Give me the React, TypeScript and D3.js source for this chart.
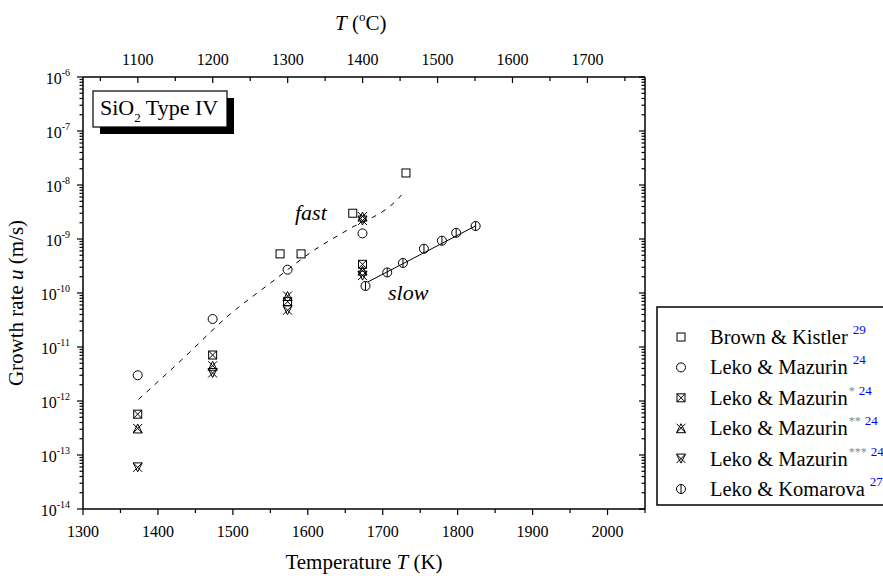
import React from 'react';
import * as d3 from 'd3';

// temperature (K), growth rate (m/s)
const brownKistler = [[1563, 5.3e-10], [1591, 5.3e-10], [1660, 3.0e-9], [1731, 1.67e-8]];
const lekoMazurin = [[1373, 3.0e-12], [1473, 3.3e-11], [1573, 2.7e-10], [1673, 1.27e-9]];
const lekoMazurin1 = [[1373, 5.7e-13], [1473, 7.1e-12], [1573, 6.9e-11], [1673, 3.4e-10]];
const lekoMazurin2 = [[1373, 3.1e-13], [1473, 4.5e-12], [1573, 8.8e-11], [1673, 2.6e-9], [1673, 2.6e-10]];
const lekoMazurin3 = [[1373, 5.9e-14], [1473, 3.3e-12], [1573, 4.8e-11], [1673, 2.2e-9], [1673, 2.1e-10]];
const lekoKomarova = [[1677, 1.35e-10], [1706, 2.4e-10], [1727, 3.6e-10], [1755, 6.6e-10], [1779, 9.3e-10], [1798, 1.3e-9], [1824, 1.74e-9]];

// fitted curves
const fastCurve = [[1374, 1.07e-12], [1434, 6.2e-12], [1492, 3.6e-11], [1552, 1.6e-10], [1609, 6.3e-10], [1653, 1.47e-9], [1719, 5.3e-9], [1729, 7.5e-9]];
const slowCurve = [[1680, 1.6e-10], [1824, 1.75e-9]];

const xTicksK = [1300, 1400, 1500, 1600, 1700, 1800, 1900, 2000];
const xTicksC = [1100, 1200, 1300, 1400, 1500, 1600, 1700];
const yDecades = [-14, -13, -12, -11, -10, -9, -8, -7, -6];

const legendItems = [
  { kind: 'square', label: 'Brown & Kistler', star: '', ref: '29' },
  { kind: 'circle', label: 'Leko & Mazurin', star: '', ref: '24' },
  { kind: 'xsquare', label: 'Leko & Mazurin', star: '*', ref: '24' },
  { kind: 'triupx', label: 'Leko & Mazurin', star: '**', ref: '24' },
  { kind: 'tridownx', label: 'Leko & Mazurin', star: '***', ref: '24' },
  { kind: 'circlebar', label: 'Leko & Komarova', star: '', ref: '27' },
];

function Marker({ kind, x, y }: { kind: string; x: number; y: number }) {
  const s = 4.5;
  const st = { fill: 'none', stroke: '#000', strokeWidth: 1 };
  const xLines = (
    <path d={`M${x - s},${y - s}L${x + s},${y + s}M${x + s},${y - s}L${x - s},${y + s}`} {...st} />
  );
  if (kind === 'square') return <rect x={x - 4} y={y - 4} width={8} height={8} {...st} />;
  if (kind === 'circle') return <circle cx={x} cy={y} r={s} {...st} />;
  if (kind === 'xsquare')
    return (
      <g>
        <rect x={x - 4} y={y - 4} width={8} height={8} {...st} />
        <path d={`M${x - 4},${y - 4}L${x + 4},${y + 4}M${x + 4},${y - 4}L${x - 4},${y + 4}`} {...st} />
      </g>
    );
  if (kind === 'triupx')
    return (
      <g>
        <path d={`M${x},${y - s}L${x + s},${y + s}L${x - s},${y + s}Z`} {...st} />
        {xLines}
      </g>
    );
  if (kind === 'tridownx')
    return (
      <g>
        <path d={`M${x},${y + s}L${x + s},${y - s}L${x - s},${y - s}Z`} {...st} />
        {xLines}
      </g>
    );
  return (
    <g>
      <circle cx={x} cy={y} r={s} {...st} />
      <line x1={x} x2={x} y1={y - s} y2={y + s} {...st} />
    </g>
  );
}

export default function App() {
  const left = 83, right = 645, top = 77, bottom = 509;
  const x = d3.scaleLinear().domain([1300, 2050]).range([left, right]);
  const xc = d3.scaleLinear().domain([1300 - 273.15, 2050 - 273.15]).range([left, right]);
  const y = d3.scaleLog().domain([1e-14, 1e-6]).range([bottom, top]);

  const minorK = d3.range(1350, 2051, 100);
  const minorC = d3.range(1050, 1751, 100);
  const minorY: number[] = [];
  yDecades.slice(0, -1).forEach((d) => {
    for (let k = 2; k <= 9; k++) minorY.push(k * Math.pow(10, d));
  });

  const line = d3
    .line<number[]>()
    .x((d) => x(d[0]))
    .y((d) => y(d[1]))
    .curve(d3.curveMonotoneX);

  const series: [string, number[][]][] = [
    ['square', brownKistler],
    ['circle', lekoMazurin],
    ['xsquare', lekoMazurin1],
    ['triupx', lekoMazurin2],
    ['tridownx', lekoMazurin3],
    ['circlebar', lekoKomarova],
  ];

  const ax = { stroke: '#000', strokeWidth: 1.5 };
  const tk = { stroke: '#000', strokeWidth: 1.2 };

  return (
    <svg width={883} height={576} style={{ position: 'absolute', left: 0, top: 0, background: '#fff' }}>
      <style>{`text { font-family: 'Liberation Serif'; fill: #000; }`}</style>
      <rect width={883} height={576} fill="#fff" />

      {/* curves */}
      <path d={line(fastCurve) || ''} fill="none" stroke="#000" strokeWidth={1} strokeDasharray="5,6" />
      <path d={line(slowCurve) || ''} fill="none" stroke="#000" strokeWidth={1} />

      {/* points */}
      {series.map(([kind, data]) =>
        data.map((d, i) => <Marker key={kind + i} kind={kind} x={x(d[0])} y={y(d[1])} />)
      )}

      {/* axes frame */}
      <line x1={left} x2={right} y1={bottom} y2={bottom} {...ax} />
      <line x1={left} x2={right} y1={top} y2={top} {...ax} />
      <line x1={left} x2={left} y1={top} y2={bottom} {...ax} />
      <line x1={right} x2={right} y1={top} y2={bottom} {...ax} />

      {/* bottom axis */}
      {xTicksK.map((t) => (
        <g key={'bk' + t}>
          <line x1={x(t)} x2={x(t)} y1={bottom} y2={bottom + 6} {...tk} />
          <text x={x(t)} y={537} fontSize={16} textAnchor="middle">{t}</text>
        </g>
      ))}
      {minorK.map((t) => (
        <line key={'bm' + t} x1={x(t)} x2={x(t)} y1={bottom} y2={bottom + 4} {...tk} />
      ))}

      {/* top axis (Celsius) */}
      {xTicksC.map((t) => (
        <g key={'tc' + t}>
          <line x1={xc(t)} x2={xc(t)} y1={top} y2={top + 6} {...tk} />
          <text x={xc(t)} y={65} fontSize={16} textAnchor="middle">{t}</text>
        </g>
      ))}
      {minorC.map((t) => (
        <line key={'tm' + t} x1={xc(t)} x2={xc(t)} y1={top} y2={top + 4} {...tk} />
      ))}

      {/* left and right log axes */}
      {yDecades.map((d) => (
        <g key={'yd' + d}>
          <line x1={left - 6} x2={left} y1={y(Math.pow(10, d))} y2={y(Math.pow(10, d))} {...tk} />
          <line x1={right - 6} x2={right} y1={y(Math.pow(10, d))} y2={y(Math.pow(10, d))} {...tk} />
          <text x={70} y={y(Math.pow(10, d)) + 7} fontSize={16} textAnchor="end">
            10<tspan fontSize={10} dy={-8}>{'-' + Math.abs(d)}</tspan>
          </text>
        </g>
      ))}
      {minorY.map((v, i) => (
        <g key={'ym' + i}>
          <line x1={left - 3.5} x2={left} y1={y(v)} y2={y(v)} {...tk} />
          <line x1={right - 3.5} x2={right} y1={y(v)} y2={y(v)} {...tk} />
        </g>
      ))}

      {/* axis titles */}
      <text x={364} y={569} fontSize={21} textAnchor="middle">
        Temperature <tspan fontStyle="italic">T</tspan> (K)
      </text>
      <text x={335} y={30} fontSize={21}>
        <tspan fontStyle="italic">T</tspan> (<tspan fontSize={13} dy={-9}>o</tspan>
        <tspan dy={9}>C)</tspan>
      </text>
      <text transform={`translate(23,${(top + bottom) / 2 + 10}) rotate(-90)`} fontSize={21} textAnchor="middle">
        Growth rate <tspan fontStyle="italic">u</tspan> (m/s)
      </text>

      {/* curve labels */}
      <text x={295} y={220} fontSize={22} fontStyle="italic">fast</text>
      <text x={388} y={300} fontSize={22} fontStyle="italic">slow</text>

      {/* title box with shadow */}
      <rect x={100} y={98} width={134} height={36} fill="#000" />
      <rect x={93} y={91} width={134} height={36} fill="#fff" stroke="#000" strokeWidth={1.2} />
      <text x={100} y={115} fontSize={22}>
        SiO<tspan fontSize={13} dy={7}>2</tspan>
        <tspan dy={-7}> Type IV</tspan>
      </text>

      {/* legend */}
      <rect x={657} y={307} width={240} height={198} fill="#fff" stroke="#000" strokeWidth={1.5} />
      {legendItems.map((it, i) => {
        const cy = 337 + i * 30.4;
        return (
          <g key={'lg' + i}>
            <Marker kind={it.kind} x={681} y={cy} />
            <text x={710} y={cy + 7} fontSize={20.5}>
              {it.label}
              {it.star ? (
                <>
                  <tspan fontSize={12} style={{ fill: '#888' }} dx={1} dy={-10}>{it.star}</tspan>
                  <tspan fontSize={13} style={{ fill: '#0000ff' }} dx={4}>{it.ref}</tspan>
                </>
              ) : (
                <tspan fontSize={13} style={{ fill: '#0000ff' }} dx={5} dy={-10}>{it.ref}</tspan>
              )}
            </text>
          </g>
        );
      })}
    </svg>
  );
}
